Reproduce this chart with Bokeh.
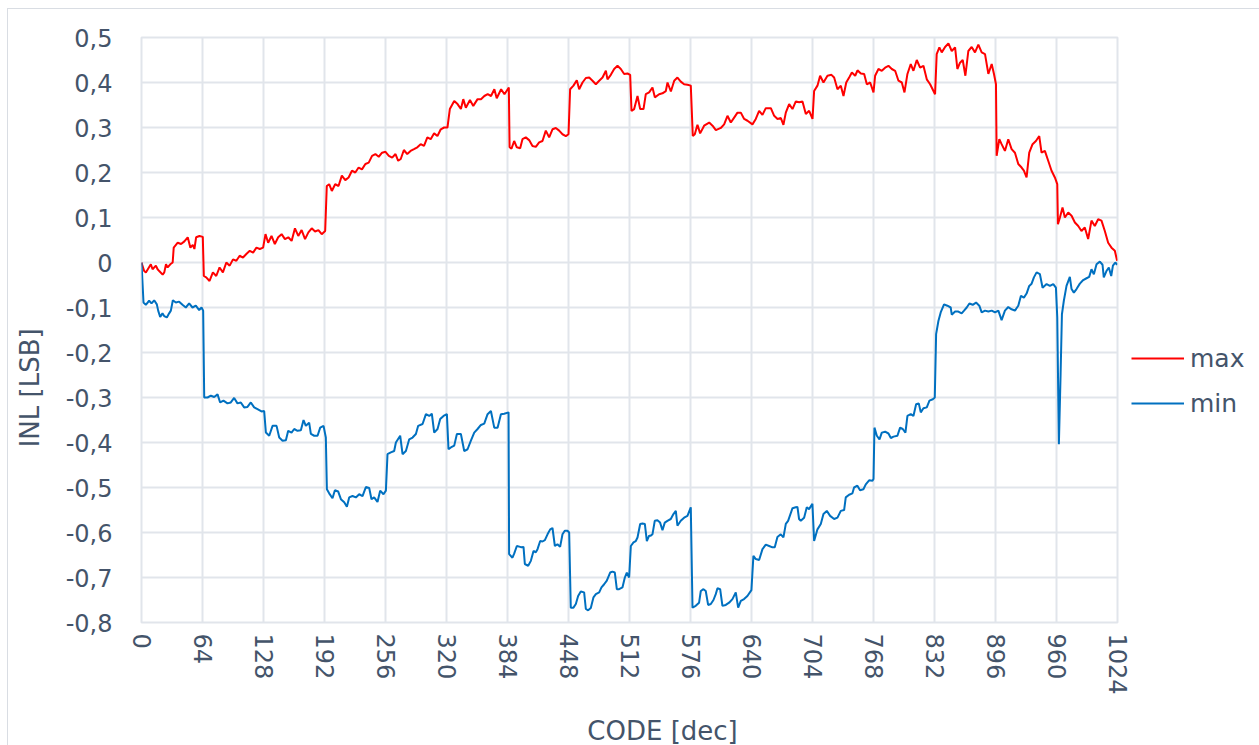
from bokeh.plotting import figure
from bokeh.models import Range1d, FixedTicker, Legend, LegendItem
from bokeh.embed import file_html
from bokeh.resources import INLINE

# ---------------- data ----------------
max_code = [0, 2.8, 4.6, 9.8, 11.6, 15.1, 16.9, 18.6, 22.2, 23.9, 25.7, 27.4, 30.2, 32.7, 33.8, 38.0, 41.5, 45.0,
            48.5, 51.3, 53.8, 55.5, 57.3, 60.8, 64.3, 65.4, 67.9, 71.4, 74.9, 78.4, 81.9, 85.4, 89.0, 92.5, 96.0,
            99.5, 103.0, 106.5, 110.0, 113.6, 117.1, 120.6, 124.1, 127.6, 130.1, 132.9, 136.4, 139.9, 143.4, 147.0,
            150.5, 154.0, 157.5, 161.0, 164.5, 168.0, 171.6, 175.1, 178.6, 182.1, 185.6, 189.1, 192.7, 194.4, 196.9,
            199.7, 203.2, 206.7, 210.2, 213.8, 217.3, 220.8, 224.3, 227.8, 231.3, 234.9, 238.4, 241.9, 245.4, 248.9,
            252.4, 256.0, 259.5, 263.0, 266.5, 269.3, 272.0, 275.3, 278.8, 282.3, 285.9, 289.4, 292.9, 296.4, 299.9,
            303.4, 307.0, 310.5, 314.0, 317.5, 321.0, 323.5, 328.1, 331.6, 335.1, 337.6, 340.3, 344.6, 348.1, 352.6,
            356.2, 359.7, 363.2, 366.7, 370.2, 372.7, 377.3, 380.8, 385.4, 386.2,
            388.2, 391.0, 393.8, 397.3, 399.7, 403.2, 406.7, 410.2, 413.7, 417.2, 420.7, 424.2, 427.7, 431.2, 434.7,
            438.2, 441.7, 445.2, 448.0, 449.7, 453.2, 456.7, 459.2, 462.7, 466.2, 469.7, 473.2, 476.7, 480.2, 483.7,
            487.2, 488.9, 492.4, 495.9, 499.4, 502.9, 506.4, 509.9, 512.7, 514.1, 516.9, 520.4, 523.2, 526.7, 529.1,
            532.6, 536.1, 538.6, 543.1, 546.6, 550.1, 551.9, 555.4, 558.9, 562.3, 565.8, 569.3, 572.8, 576.3, 578.4,
            580.5, 583.3, 586.1, 590.3, 595.6, 599.1, 602.6, 607.8, 611.3, 614.8, 618.3, 621.8, 625.3, 628.8, 632.3,
            635.8, 641.0, 644.5, 648.0, 651.5, 655.0, 660.3, 663.8, 667.3, 670.8, 673.5, 676.0, 679.5, 683.0, 686.5,
            690.0, 693.5, 697.0, 700.5, 704.0, 705.7, 709.2, 712.0, 715.5, 719.7, 723.9, 726.7, 730.2, 733.7, 736.5,
            739.4, 742.9, 745.3, 748.8, 751.2, 754.7, 758.2, 761.0, 764.5, 768.0, 769.7, 773.2, 776.7, 780.2, 783.7,
            787.2, 790.7, 794.2, 797.7, 800.5, 803.6, 807.1, 809.9, 813.4, 816.9, 820.4, 823.9, 827.4, 830.9, 832.6,
            834.3, 837.1, 839.6, 843.1, 846.6, 850.1, 853.6, 856.0, 858.8, 861.6, 864.4, 867.5, 871.0, 874.5, 878.0,
            881.5, 885.0, 888.5, 892.0, 894.4, 896.5, 897.2, 900.0, 902.4, 905.9, 909.4, 912.9, 916.4, 919.9, 923.4,
            925.8, 928.6, 931.4, 934.9, 938.4, 941.9, 944.3, 947.8, 951.3, 954.8, 958.3, 960.8, 961.5, 963.6, 966.3,
            968.8, 972.3, 975.8, 979.3, 982.8, 986.2, 989.7, 993.2, 996.7, 1000.2, 1003.7, 1007.2, 1010.7, 1014.2,
            1017.7, 1021.2, 1023.6]
max_inl = [0.0, -0.019, -0.022, -0.004, -0.015, -0.007, -0.015, -0.019, -0.027, -0.022, -0.004, -0.011, -0.004, 0.0,
           0.033, 0.044, 0.041, 0.047, 0.056, 0.033, 0.039, 0.030, 0.056, 0.059, 0.057, -0.030, -0.033, -0.041,
           -0.022, -0.030, -0.011, -0.022, 0.0, -0.007, 0.007, 0.004, 0.015, 0.011, 0.019, 0.026, 0.022, 0.033, 0.030,
           0.033, 0.063, 0.044, 0.059, 0.041, 0.056, 0.063, 0.052, 0.056, 0.048, 0.076, 0.059, 0.072, 0.052, 0.067,
           0.076, 0.069, 0.072, 0.063, 0.070, 0.170, 0.174, 0.159, 0.174, 0.170, 0.193, 0.183, 0.189, 0.204, 0.200,
           0.211, 0.207, 0.219, 0.222, 0.237, 0.241, 0.235, 0.244, 0.246, 0.237, 0.233, 0.241, 0.226, 0.230, 0.250,
           0.241, 0.248, 0.252, 0.256, 0.263, 0.259, 0.278, 0.274, 0.287, 0.281, 0.296, 0.300, 0.300, 0.341, 0.359,
           0.352, 0.341, 0.363, 0.344, 0.361, 0.348, 0.363, 0.363, 0.370, 0.374, 0.370, 0.385, 0.365, 0.385, 0.374,
           0.389, 0.256,
           0.253, 0.270, 0.256, 0.254, 0.274, 0.278, 0.272, 0.259, 0.257, 0.267, 0.270, 0.293, 0.278, 0.296, 0.299,
           0.293, 0.285, 0.281, 0.285, 0.385, 0.393, 0.405, 0.385, 0.400, 0.410, 0.411, 0.404, 0.396, 0.404, 0.411,
           0.426, 0.407, 0.417, 0.430, 0.437, 0.430, 0.419, 0.420, 0.417, 0.337, 0.341, 0.370, 0.341, 0.341, 0.374,
           0.378, 0.389, 0.367, 0.374, 0.376, 0.381, 0.400, 0.380, 0.404, 0.411, 0.402, 0.396, 0.395, 0.393, 0.281,
           0.285, 0.306, 0.287, 0.304, 0.311, 0.304, 0.294, 0.299, 0.307, 0.326, 0.311, 0.322, 0.333, 0.333, 0.319,
           0.315, 0.307, 0.319, 0.337, 0.328, 0.343, 0.343, 0.326, 0.319, 0.321, 0.306, 0.333, 0.352, 0.341, 0.358,
           0.356, 0.358, 0.330, 0.337, 0.319, 0.381, 0.393, 0.415, 0.400, 0.415, 0.417, 0.411, 0.385, 0.393, 0.370,
           0.400, 0.413, 0.422, 0.415, 0.427, 0.420, 0.419, 0.396, 0.400, 0.378, 0.415, 0.430, 0.426, 0.433, 0.437,
           0.430, 0.426, 0.404, 0.400, 0.378, 0.419, 0.441, 0.426, 0.450, 0.433, 0.437, 0.407, 0.396, 0.381, 0.374,
           0.463, 0.478, 0.467, 0.479, 0.487, 0.470, 0.478, 0.430, 0.444, 0.450, 0.415, 0.470, 0.479, 0.467, 0.484,
           0.467, 0.463, 0.419, 0.441, 0.419, 0.396, 0.237, 0.274, 0.263, 0.248, 0.274, 0.252, 0.244, 0.219, 0.211,
           0.204, 0.189, 0.244, 0.263, 0.270, 0.281, 0.244, 0.248, 0.226, 0.204, 0.189, 0.174, 0.085, 0.100, 0.122,
           0.100, 0.111, 0.104, 0.089, 0.081, 0.070, 0.078, 0.052, 0.093, 0.081, 0.096, 0.093, 0.070, 0.044,
           0.033, 0.026, 0.004]

min_code = [0, 2.1, 4.5, 8.0, 10.5, 13.3, 16.1, 17.5, 19.6, 22.0, 23.8, 26.6, 29.0, 30.8, 32.9, 36.0, 39.5, 43.0,
            46.5, 50.0, 53.5, 57.0, 60.5, 63.0, 64.7, 65.8, 69.3, 72.8, 76.3, 79.8, 82.5, 86.0, 90.2, 93.7, 97.2,
            100.7, 104.2, 107.7, 111.2, 114.7, 118.2, 121.7, 125.9, 128.7, 130.5, 134.0, 137.5, 141.7, 144.5, 148.0,
            151.5, 153.9, 157.4, 160.2, 163.7, 167.2, 170.0, 172.4, 175.9, 177.7, 181.2, 184.7, 187.5, 191.0, 193.4,
            194.5, 196.9, 200.4, 202.9, 206.4, 209.2, 212.7, 215.5, 217.9, 221.4, 224.9, 228.4, 231.9, 235.4, 238.9,
            241.3, 244.1, 247.6, 250.4, 253.9, 256.4, 258.1, 261.6, 265.1, 266.9, 271.4, 273.9, 277.4, 280.9, 284.4,
            287.9, 290.3, 294.9, 298.4, 301.9, 304.6, 307.1, 310.6, 313.4, 316.9, 320.4, 322.1, 324.6, 328.1, 330.9,
            335.1, 338.6, 342.1, 345.6, 349.1, 352.6, 356.1, 359.6, 363.1, 366.6, 370.1, 373.6, 377.1, 380.6, 385.1,
            385.7, 389.2, 391.0, 393.8, 397.3, 398.7, 400.8, 402.2, 405.7, 408.5, 411.3, 413.7, 415.5, 418.3, 420.7,
            423.2, 426.0, 428.8, 431.2, 433.7, 436.4, 439.2, 441.7, 444.1, 446.9, 448.7, 450.4, 453.2, 455.7, 458.1,
            460.9, 464.4, 466.2, 468.6, 471.4, 474.2, 476.7, 480.2, 482.6, 485.4, 488.2, 491.7, 494.1, 496.6, 498.7,
            501.1, 504.6, 507.1, 509.2, 511.6, 513.4, 516.2, 518.6, 520.4, 523.2, 525.6, 528.1, 530.2, 532.6, 534.3,
            536.1, 538.5, 541.3, 544.1, 546.6, 549.0, 551.8, 555.3, 558.1, 560.6, 562.3, 565.8, 569.3, 572.8, 576.3,
            578.1, 581.5, 585.0, 586.8, 589.6, 592.0, 594.5, 597.3, 600.1, 602.5, 604.3, 607.1, 609.5, 613.0, 616.5,
            620.0, 623.5, 626.0, 628.8, 632.2, 635.7, 639.9, 642.0, 644.5, 648.0, 651.5, 655.0, 658.5, 662.0, 664.4,
            667.2, 670.7, 673.5, 676.0, 678.4, 683.0, 686.4, 688.2, 689.9, 691.7, 695.2, 698.0, 700.4, 703.9, 705.7,
            709.2, 712.7, 715.5, 719.0, 722.5, 726.7, 730.2, 733.7, 737.2, 738.9, 742.4, 745.9, 747.6, 751.1, 753.9,
            757.4, 759.9, 763.4, 766.9,
            768.0, 769.0, 771.5, 774.3, 776.7, 780.2, 783.7, 786.2, 789.0, 793.1, 795.9, 798.7, 801.5, 803.6, 807.1,
            809.9, 812.7, 815.5, 817.6, 820.4, 823.9, 826.7, 830.2, 832.3, 833.7, 836.1, 838.5, 842.0, 845.5, 849.0,
            850.1, 853.6, 857.0, 860.5, 863.0, 865.8, 868.6, 872.1, 875.6, 879.0, 881.5, 885.0, 888.5, 892.0, 895.5,
            899.0, 902.4, 905.9, 909.4, 912.9, 916.4, 919.9, 922.7, 925.8, 928.6, 931.4, 933.9, 936.3, 939.1, 942.6,
            945.4, 949.6, 953.1, 956.6, 959.4, 960.8, 962.5, 964.3, 965.7, 967.7, 970.5, 974.0, 975.8, 978.2, 981.0,
            984.5, 988.0, 991.5, 994.3, 996.7, 999.2, 1002.0, 1005.5, 1008.3, 1009.6, 1012.4, 1014.9, 1017.4, 1019.2,
            1021.7, 1023.6]
min_inl = [0.0, -0.089, -0.094, -0.085, -0.091, -0.084, -0.093, -0.107, -0.121, -0.113, -0.119, -0.122, -0.113,
           -0.107, -0.084, -0.089, -0.087, -0.094, -0.100, -0.091, -0.100, -0.096, -0.106, -0.100, -0.107, -0.300,
           -0.300, -0.296, -0.299, -0.293, -0.311, -0.307, -0.313, -0.311, -0.301, -0.313, -0.311, -0.322, -0.321,
           -0.311, -0.322, -0.326, -0.331, -0.330, -0.378, -0.385, -0.363, -0.363, -0.389, -0.396, -0.395, -0.374,
           -0.378, -0.370, -0.374, -0.373, -0.350, -0.363, -0.356, -0.381, -0.385, -0.385, -0.367, -0.363, -0.389,
           -0.504, -0.513, -0.524, -0.506, -0.509, -0.526, -0.533, -0.543, -0.522, -0.519, -0.522, -0.515, -0.519,
           -0.499, -0.501, -0.526, -0.522, -0.532, -0.507, -0.515, -0.507, -0.426, -0.422, -0.419, -0.400, -0.385,
           -0.426, -0.419, -0.393, -0.389, -0.381, -0.363, -0.359, -0.337, -0.341, -0.336, -0.378, -0.370, -0.348,
           -0.341, -0.337, -0.415, -0.411, -0.407, -0.381, -0.381, -0.419, -0.415, -0.396, -0.378, -0.370, -0.361,
           -0.358, -0.337, -0.330, -0.367, -0.367, -0.337, -0.336, -0.333,
           -0.648, -0.656, -0.647, -0.630, -0.632, -0.633, -0.632, -0.670, -0.674, -0.663, -0.641, -0.644, -0.637,
           -0.619, -0.620, -0.617, -0.604, -0.593, -0.590, -0.630, -0.626, -0.632, -0.604, -0.596, -0.596, -0.600,
           -0.767, -0.767, -0.759, -0.741, -0.731, -0.733, -0.770, -0.773, -0.768, -0.744, -0.737, -0.733, -0.722,
           -0.715, -0.707, -0.689, -0.687, -0.689, -0.726, -0.726, -0.722, -0.700, -0.689, -0.700, -0.630, -0.622,
           -0.619, -0.611, -0.581, -0.580, -0.581, -0.619, -0.607, -0.607, -0.604, -0.574, -0.573, -0.578, -0.595,
           -0.578, -0.574, -0.570, -0.559, -0.552, -0.585, -0.574, -0.567, -0.563, -0.544, -0.767, -0.763, -0.756,
           -0.730, -0.726, -0.730, -0.761, -0.759, -0.750, -0.737, -0.724, -0.726, -0.763, -0.761, -0.756, -0.748,
           -0.733, -0.767, -0.752, -0.748, -0.741, -0.728, -0.652, -0.659, -0.661, -0.637, -0.627, -0.630, -0.633,
           -0.633, -0.610, -0.604, -0.611, -0.581, -0.574, -0.546, -0.544, -0.543, -0.570, -0.574, -0.567, -0.544,
           -0.548, -0.536, -0.619, -0.593, -0.581, -0.559, -0.552, -0.563, -0.570, -0.567, -0.552, -0.550, -0.522,
           -0.516, -0.513, -0.500, -0.496, -0.506, -0.504, -0.493, -0.484, -0.485,
           -0.481, -0.367, -0.385, -0.393, -0.378, -0.376, -0.380, -0.390, -0.387, -0.385, -0.367, -0.370, -0.378,
           -0.341, -0.337, -0.341, -0.315, -0.313, -0.333, -0.324, -0.322, -0.307, -0.304, -0.300, -0.159, -0.130,
           -0.111, -0.093, -0.096, -0.100, -0.116, -0.109, -0.109, -0.113, -0.107, -0.100, -0.091, -0.094, -0.089,
           -0.096, -0.111, -0.107, -0.109, -0.107, -0.111, -0.107, -0.128, -0.107, -0.099, -0.104, -0.107, -0.096,
           -0.074, -0.078, -0.069, -0.052, -0.047, -0.033, -0.022, -0.026, -0.056, -0.048, -0.052, -0.048, -0.056,
           -0.122, -0.404, -0.248, -0.115, -0.085, -0.052, -0.032, -0.059, -0.067, -0.059, -0.047, -0.039, -0.035,
           -0.032, -0.015, -0.026, -0.004, 0.002, -0.005, -0.033, -0.019, -0.011, -0.030, -0.007, 0.0, -0.005]

x_ticks = [0, 64, 128, 192, 256, 320, 384, 448, 512, 576, 640, 704, 768, 832, 896, 960, 1024]
y_ticks = [0.5, 0.4, 0.3, 0.2, 0.1, 0.0, -0.1, -0.2, -0.3, -0.4, -0.5, -0.6, -0.7, -0.8]
y_tick_labels = ["0,5", "0,4", "0,3", "0,2", "0,1", "0", "-0,1", "-0,2", "-0,3", "-0,4", "-0,5", "-0,6",
                 "-0,7", "-0,8"]
series_names = ["max", "min"]
x_title = "CODE [dec]"
y_title = "INL [LSB]"

# ---------------- styling ----------------
FONT = "DejaVu Sans"
TXT = "#44546a"
GRID = "#e1e5eb"
RED = "#ff0000"
BLUE = "#0070c0"

p = figure(frame_width=976, frame_height=585, output_backend="svg", toolbar_location=None,
           x_range=Range1d(0, 1024), y_range=Range1d(-0.8, 0.5),
           min_border_left=133, min_border_right=142, min_border_top=28, min_border_bottom=123)
p.background_fill_color = "white"
p.border_fill_color = "white"
p.outline_line_color = GRID
p.outline_line_width = 2

r_max = p.line(max_code, max_inl, line_color=RED, line_width=2)
r_min = p.line(min_code, min_inl, line_color=BLUE, line_width=2)

for ax in (p.xaxis[0], p.yaxis[0]):
    ax.axis_line_color = None
    ax.major_tick_line_color = None
    ax.minor_tick_line_color = None
    ax.major_tick_out = 0
    ax.major_tick_in = 0
    ax.minor_tick_out = 0
    ax.minor_tick_in = 0
    ax.major_label_text_font = FONT
    ax.major_label_text_font_size = "24px"
    ax.major_label_text_color = TXT
    ax.axis_label_text_font = FONT
    ax.axis_label_text_font_size = "26px"
    ax.axis_label_text_font_style = "normal"
    ax.axis_label_text_color = TXT

NB = "\u00a0"
p.xaxis[0].ticker = FixedTicker(ticks=x_ticks)
p.xaxis[0].major_label_orientation = "vertical"
p.xaxis[0].major_label_standoff = 11
p.xaxis[0].axis_label = NB * 8 + x_title
p.xaxis[0].axis_label_standoff = 18

p.yaxis[0].ticker = FixedTicker(ticks=y_ticks)
p.yaxis[0].major_label_overrides = {t: s for t, s in zip(y_ticks, y_tick_labels)}
p.yaxis[0].major_label_standoff = 29
p.yaxis[0].axis_label = y_title + NB * 14
p.yaxis[0].axis_label_standoff = 18

for g in (p.xgrid[0], p.ygrid[0]):
    g.grid_line_color = GRID
    g.grid_line_width = 2
p.xgrid[0].ticker = FixedTicker(ticks=x_ticks)
p.ygrid[0].ticker = FixedTicker(ticks=y_ticks)

legend = Legend(items=[LegendItem(label=series_names[0], renderers=[r_max]),
                       LegendItem(label=series_names[1], renderers=[r_min])],
                location="center_left", orientation="vertical")
legend.title = NB
legend.title_text_font_size = "25px"
legend.title_standoff = 73
legend.label_text_font = FONT
legend.label_text_font_size = "25px"
legend.label_text_color = TXT
legend.glyph_width = 53
legend.glyph_height = 20
legend.label_height = 20
legend.label_standoff = 6
legend.spacing = 16
legend.padding = 0
legend.margin = 14
legend.border_line_color = None
legend.background_fill_alpha = 0
p.add_layout(legend, "right")

p.styles = {"border-left": "1px solid #d9dde3", "border-top": "1px solid #d9dde3",
            "box-sizing": "border-box", "margin-left": "7px", "margin-top": "8px"}

open("out.html", "w").write(file_html(p, INLINE))
